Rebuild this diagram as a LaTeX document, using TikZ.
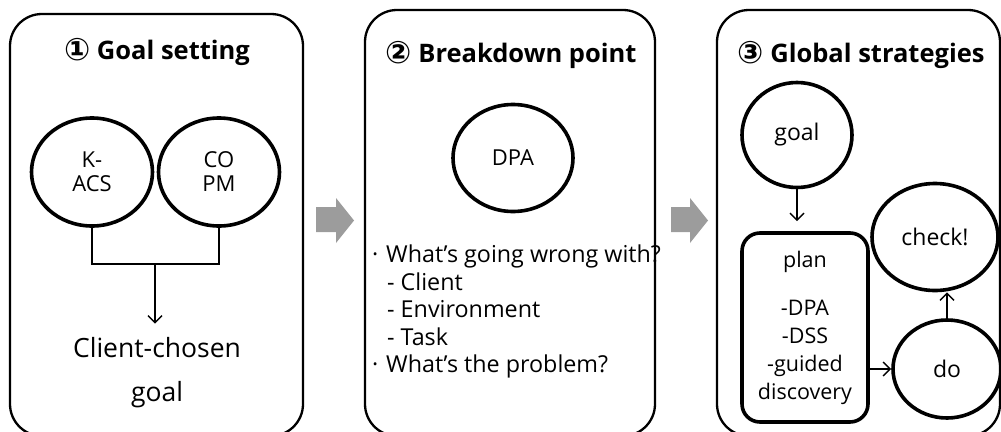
\documentclass[tikz,border=0pt]{standalone}
\usepackage{fontspec}
\setmainfont{Open Sans}
\newfontfamily\circfont{DejaVu Sans}
\usetikzlibrary{shapes.geometric,arrows.meta}
\definecolor{arrowgray}{HTML}{9C9C9C}
\newcommand{\circnum}[1]{{\circfont\fontsize{31}{28}\selectfont\raisebox{-1.5pt}{#1}}}
\begin{document}
\begin{tikzpicture}[x=1pt,y=-1pt,
  panel/.style={draw,line width=2.3pt,rounded corners=32pt},
  bub/.style={ellipse,draw,line width=3.6pt,inner sep=0pt,align=center,
    font=\fontsize{22}{24}\selectfont},
  conn/.style={line width=1.4pt},
  arr/.style={conn,-{Straight Barb[length=7pt,width=14pt,line width=1.4pt]}},
  ttl/.style={inner sep=0pt,font=\fontsize{25.5}{28}\selectfont\bfseries},
  txt/.style={inner sep=0pt,font=\fontsize{23.3}{26}\selectfont},
  big/.style={inner sep=0pt,font=\fontsize{26.5}{30}\selectfont},
  garrow/.style={fill=arrowgray,draw=none},
]
\useasboundingbox (0,0) rectangle (1001,431);
\clip (0,0) rectangle (1001,431);

% panels
\draw[panel] (10,14) rectangle (303,436);
\draw[panel] (365,10) rectangle (655,436);
\draw[panel] (717,10) rectangle (1000,436);

% gray arrows
\fill[garrow] (316,207) -- (336,207) -- (336,198) -- (354,220.5) -- (336,243) -- (336,232) -- (316,232) -- cycle;
\fill[garrow] (671,207) -- (690,207) -- (690,198) -- (708,220.5) -- (690,243) -- (690,232) -- (671,232) -- cycle;

% titles
\node[ttl] (t1) at (157,52) {\circnum{①} Goal setting};
\node[ttl] (t2) at (511,55) {\circnum{②} Breakdown point};
\node[ttl] (t3) at (861,55) {\circnum{③} Global strategies};

% panel 1
\node[bub,minimum width=121pt,minimum height=108pt] (kacs) at (92,172) {K-\\ACS};
\node[bub,minimum width=121pt,minimum height=108pt] (copm) at (219,172) {CO\\PM};
\coordinate (j1) at (155,264);
\node[big] (cc1) at (157,348) {Client-chosen};
\node[big] (cc2) at (157,395) {goal};
\draw[conn] (kacs.south) |- (j1) -| (copm.south);
\draw[arr,shorten >=14pt] (j1) -- (cc1.north -| j1);

% panel 2
\node[bub,minimum width=120pt,minimum height=107pt] (dpa) at (513,158) {DPA};
\node[txt,anchor=base west] (b1) at (372,262) {·};
\node[txt,anchor=base west] (l1) at (386,262) {What’s going wrong with?};
\node[txt,anchor=base west] (l2) at (387,290) {- Client};
\node[txt,anchor=base west] (l3) at (387,317) {- Environment};
\node[txt,anchor=base west] (l4) at (387,345) {- Task};
\node[txt,anchor=base west] (b2) at (372,372) {·};
\node[txt,anchor=base west] (l5) at (386,372) {What’s the problem?};

% panel 3
\node[bub,minimum width=110pt,minimum height=105pt,font=\fontsize{23}{26}\selectfont] (goal) at (797,135) {goal};
\node[draw,line width=3.6pt,rounded corners=18pt,minimum width=126pt,minimum height=189pt,
  align=center,inner sep=0pt,font=\fontsize{21.5}{28}\selectfont] (plan) at (805,327.5)
  {plan\\[20pt]-DPA\\-DSS\\-guided\\discovery};
\node[bub,minimum width=126pt,minimum height=107pt,font=\fontsize{23}{26}\selectfont] (check) at (935,237) {check!};
\node[bub,minimum width=108pt,minimum height=98pt,font=\fontsize{23}{26}\selectfont] (do) at (947,369) {do};

\draw[arr,shorten >=10pt] (goal.south) -- (goal.south |- plan.north);
\draw[arr] (plan.east |- do.west) -- (do.west);
\draw[arr] (do.north) -- (do.north |- check.south);
\end{tikzpicture}
\end{document}
